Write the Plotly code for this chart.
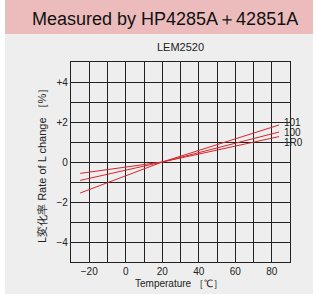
import plotly.graph_objects as go

# Data
temps = [-25, 20, 84]
series_names = ["101", "100", "1R0"]
rate_101 = [-1.55, 0.0, 1.85]
rate_100 = [-0.92, 0.0, 1.5]
rate_1R0 = [-0.57, 0.0, 1.27]
label_y = [2.0, 1.5, 1.0]

x_tickvals = [-30, -20, -10, 0, 10, 20, 30, 40, 50, 60, 70, 80, 90]
x_ticktext = ["", "−20", "", "0", "", "20", "", "40", "", "60", "", "80", ""]
y_tickvals = [-5, -4, -3, -2, -1, 0, 1, 2, 3, 4, 5]
y_ticktext = ["", "−4", "", "−2", "", "0", "", "+2", "", "+4", ""]

FONT = "Liberation Sans, Arial, Helvetica, sans-serif"
RED = "#d8262c"
W, H = 317, 294
L, R, T, B = 71, 27, 62, 32
pw, ph = W - L - R, H - T - B

def px(x):
    return (x - L) / pw

def py(y):
    return (H - B - y) / ph

fig = go.Figure()
for name, ys in zip(series_names, [rate_101, rate_100, rate_1R0]):
    fig.add_trace(go.Scatter(x=temps, y=ys, mode="lines", name=name,
                             line=dict(color=RED, width=1), showlegend=False,
                             hoverinfo="skip"))

annotations = []
for name, ly in zip(series_names, label_y):
    annotations.append(dict(x=85.5, y=ly, xref="x", yref="y", text=name,
                            showarrow=False, xanchor="left", yanchor="middle",
                            font=dict(family=FONT, size=10, color="#222")))

annotations += [
    dict(x=px(165), y=py(19), xref="paper", yref="paper",
         text="Measured by HP4285A＋42851A", showarrow=False,
         font=dict(family=FONT, size=18, color="#111"), xanchor="center", yanchor="middle"),
    dict(x=px(180), y=py(47), xref="paper", yref="paper", text="LEM2520",
         showarrow=False, font=dict(family=FONT, size=11, color="#222"),
         xanchor="center", yanchor="middle"),
    dict(x=px(42), y=py(163), xref="paper", yref="paper",
         text="L変化率 Rate of L change ［%］", textangle=-90, showarrow=False,
         font=dict(family=FONT, size=11, color="#222"), xanchor="center", yanchor="middle"),
    dict(x=px(179), y=py(283), xref="paper", yref="paper",
         text="Temperature ［℃］", showarrow=False,
         font=dict(family=FONT, size=10, color="#222"), xanchor="center", yanchor="middle"),
]

shapes = [
    dict(type="rect", xref="paper", yref="paper", x0=px(5), x1=px(313), y0=py(294), y1=py(34),
         fillcolor="#eeeeee", line=dict(width=0), layer="below"),
    dict(type="rect", xref="paper", yref="paper", x0=px(5), x1=px(313), y0=py(34), y1=py(0),
         fillcolor="#ecbcbc", line=dict(width=0), layer="below"),
]

fig.update_layout(
    width=W, height=H,
    margin=dict(l=L, r=R, t=T, b=B, pad=0),
    paper_bgcolor="white", plot_bgcolor="white",
    annotations=annotations, shapes=shapes,
    font=dict(family=FONT, size=10, color="#222"),
    xaxis=dict(range=[-30, 90], tickvals=x_tickvals, ticktext=x_ticktext,
               showgrid=True, gridcolor="#222", gridwidth=1, zeroline=False,
               showline=True, linecolor="#222", linewidth=1.2, mirror=True,
               ticks="", fixedrange=True, tickfont=dict(size=10, color="#222")),
    yaxis=dict(range=[-5, 5], tickvals=y_tickvals, ticktext=y_ticktext,
               showgrid=True, gridcolor="#222", gridwidth=1, zeroline=False,
               showline=True, linecolor="#222", linewidth=1.2, mirror=True,
               ticks="", fixedrange=True, tickfont=dict(size=10, color="#222")),
)

fig.write_html("out.html", config={"displayModeBar": False},
               post_script="document.body.style.margin='0';document.body.style.padding='0';")
